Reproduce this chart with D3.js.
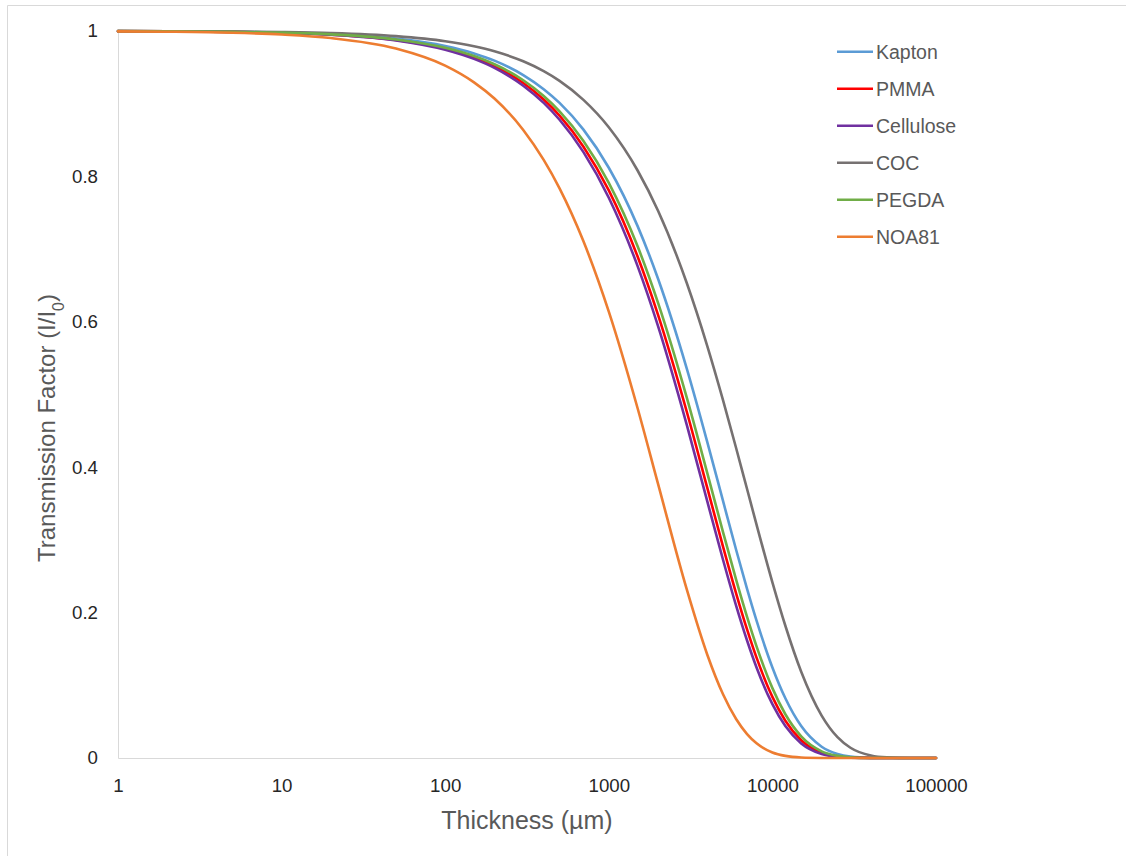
<!DOCTYPE html>
<html>
<head>
<meta charset="utf-8">
<script src="https://cdn.jsdelivr.net/npm/d3@7"></script>
<style>
  html, body { margin: 0; padding: 0; background: #fff; }
  svg { display: block; font-family: "Liberation Sans", Arial, sans-serif; }
</style>
</head>
<body>
<svg id="chart" width="1126" height="856"></svg>
<script>
// ---- data ----
const thickness = [1, 2, 5, 10, 20, 50, 100, 150, 200, 300, 400, 500, 700, 1000, 1500, 2000, 3000, 4000, 5000, 6000, 7000, 8000, 10000, 12000, 15000, 20000, 25000, 30000, 40000, 50000, 70000, 100000];

const kapton    = [0.9998, 0.9996, 0.9990, 0.9979, 0.9958, 0.9896, 0.9794, 0.9692, 0.9592, 0.9394, 0.9200, 0.9011, 0.8643, 0.8119, 0.7316, 0.6592, 0.5353, 0.4346, 0.3529, 0.2865, 0.2326, 0.1889, 0.1245, 0.0821, 0.0439, 0.0155, 0.0055, 0.0019, 0.0002, 0.0000, 0.0000, 0.0000];
const pmma      = [0.9998, 0.9995, 0.9988, 0.9975, 0.9951, 0.9877, 0.9756, 0.9636, 0.9517, 0.9284, 0.9057, 0.8836, 0.8409, 0.7807, 0.6898, 0.6095, 0.4759, 0.3715, 0.2901, 0.2265, 0.1768, 0.1380, 0.0841, 0.0513, 0.0244, 0.0071, 0.0021, 0.0006, 0.0001, 0.0000, 0.0000, 0.0000];
const cellulose = [0.9997, 0.9995, 0.9987, 0.9974, 0.9948, 0.9871, 0.9743, 0.9617, 0.9493, 0.9248, 0.9011, 0.8779, 0.8334, 0.7707, 0.6766, 0.5940, 0.4578, 0.3529, 0.2720, 0.2096, 0.1616, 0.1245, 0.0740, 0.0439, 0.0201, 0.0055, 0.0015, 0.0004, 0.0000, 0.0000, 0.0000, 0.0000];
const coc       = [0.9999, 0.9997, 0.9993, 0.9986, 0.9972, 0.9929, 0.9859, 0.9789, 0.9720, 0.9583, 0.9448, 0.9314, 0.9053, 0.8676, 0.8081, 0.7527, 0.6530, 0.5666, 0.4915, 0.4264, 0.3700, 0.3210, 0.2416, 0.1819, 0.1187, 0.0584, 0.0287, 0.0141, 0.0034, 0.0008, 0.0000, 0.0000];
const pegda     = [0.9998, 0.9995, 0.9988, 0.9977, 0.9953, 0.9884, 0.9769, 0.9655, 0.9542, 0.9322, 0.9106, 0.8895, 0.8488, 0.7912, 0.7038, 0.6260, 0.4953, 0.3919, 0.3101, 0.2453, 0.1941, 0.1536, 0.0961, 0.0602, 0.0298, 0.0092, 0.0029, 0.0009, 0.0001, 0.0000, 0.0000, 0.0000];
const noa81     = [0.9995, 0.9990, 0.9976, 0.9951, 0.9903, 0.9759, 0.9524, 0.9294, 0.9071, 0.8639, 0.8227, 0.7835, 0.7107, 0.6140, 0.4811, 0.3770, 0.2315, 0.1421, 0.0873, 0.0536, 0.0329, 0.0202, 0.0076, 0.0029, 0.0007, 0.0001, 0.0000, 0.0000, 0.0000, 0.0000, 0.0000, 0.0000];

const seriesNames  = ["Kapton", "PMMA", "Cellulose", "COC", "PEGDA", "NOA81"];
const seriesValues = [kapton, pmma, cellulose, coc, pegda, noa81];
const seriesColors = ["#5B9BD5", "#FF0000", "#7030A0", "#767171", "#70AD47", "#ED7D31"];

const xTickValues = [1, 10, 100, 1000, 10000, 100000];
const xTickLabels = ["1", "10", "100", "1000", "10000", "100000"];
const yTickValues = [0, 0.2, 0.4, 0.6, 0.8, 1];
const yTickLabels = ["0", "0.2", "0.4", "0.6", "0.8", "1"];

const xTitle = "Thickness (µm)";

// ---- layout ----
const svg = d3.select("#chart");
const L = 118, R = 936, T = 31, B = 758;

// chart frame
svg.append("line").attr("x1", 7.5).attr("x2", 1126).attr("y1", 5.5).attr("y2", 5.5)
  .attr("stroke", "#d9d9d9").attr("stroke-width", 1);
svg.append("line").attr("x1", 7.5).attr("x2", 7.5).attr("y1", 5.5).attr("y2", 856)
  .attr("stroke", "#d9d9d9").attr("stroke-width", 1);

const x = d3.scaleLog().domain([1, 100000]).range([L, R]);
const y = d3.scaleLinear().domain([0, 1]).range([B, T]);

// axes
const xAxis = svg.append("g").attr("transform", `translate(0,${B})`)
  .call(d3.axisBottom(x).tickValues(xTickValues)
    .tickFormat((d, i) => xTickLabels[i]).tickSize(0).tickSizeOuter(0).tickPadding(21));
const yAxis = svg.append("g").attr("transform", `translate(${L},0)`)
  .call(d3.axisLeft(y).tickValues(yTickValues)
    .tickFormat((d, i) => yTickLabels[i]).tickSize(0).tickSizeOuter(0).tickPadding(20));

[xAxis, yAxis].forEach(g => {
  g.select(".domain").attr("stroke", "#d9d9d9").attr("stroke-width", 1);
  g.selectAll("text").attr("fill", "#262626")
    .style("font-family", '"Liberation Sans", Arial, sans-serif')
    .style("font-size", "18.7px");
});

// lines
const line = d3.line()
  .x(d => x(d[0]))
  .y(d => y(d[1]))
  .curve(d3.curveMonotoneX);

seriesValues.forEach((vals, i) => {
  const pts = thickness.map((t, j) => [t, vals[j]]);
  svg.append("path")
    .datum(pts)
    .attr("fill", "none")
    .attr("stroke", seriesColors[i])
    .attr("stroke-width", 2.6)
    .attr("stroke-linejoin", "round")
    .attr("stroke-linecap", "round")
    .attr("d", line);
});

// axis titles
svg.append("text")
  .attr("x", (L + R) / 2).attr("y", 829)
  .attr("text-anchor", "middle")
  .attr("fill", "#595959")
  .style("font-size", "25px")
  .text(xTitle);

const yt = svg.append("text")
  .attr("transform", "translate(55,428) rotate(-90)")
  .attr("text-anchor", "middle")
  .attr("fill", "#595959")
  .style("font-size", "24px");
yt.append("tspan").text("Transmission Factor (I/I");
yt.append("tspan").attr("baseline-shift", "sub").style("font-size", "16px").text("0");
yt.append("tspan").text(")");

// legend
const legend = svg.append("g");
seriesNames.forEach((name, i) => {
  const ly = 51.7 + i * 37;
  legend.append("line")
    .attr("x1", 837).attr("x2", 873).attr("y1", ly).attr("y2", ly)
    .attr("stroke", seriesColors[i]).attr("stroke-width", 2.6);
  legend.append("text")
    .attr("x", 876).attr("y", ly).attr("dy", "0.35em")
    .attr("fill", "#595959")
    .style("font-size", "19.5px")
    .text(name);
});
</script>
</body>
</html>
